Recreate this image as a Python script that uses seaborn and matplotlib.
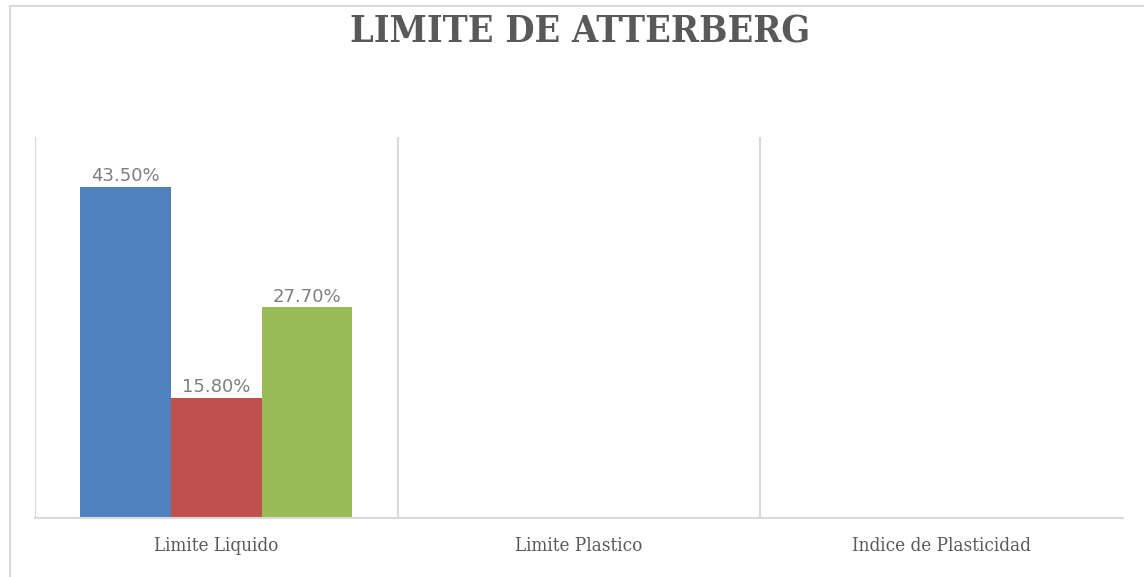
import matplotlib
matplotlib.use("Agg")
import matplotlib.pyplot as plt
from matplotlib.patches import Rectangle
from matplotlib.ticker import FixedLocator
import seaborn as sns
import pandas as pd

# Atterberg limits test results (percent)
categories = ["Limite Liquido", "Limite Plastico", "Indice de Plasticidad"]
series = ["Limite Liquido", "Limite Plastico", "Indice de Plasticidad"]
values = [43.50, 15.80, 27.70]
value_labels = ["43.50%", "15.80%", "27.70%"]
colors = ["#4F81BD", "#C0504D", "#9BBB59"]

df = pd.DataFrame({
    "categoria": [categories[0]] * len(series),
    "serie": series,
    "valor": values,
})

sns.set_theme(style="white")

W, H = 1144, 577
fig = plt.figure(figsize=(W / 100, H / 100), dpi=100)
fig.patch.set_facecolor("white")

# chart frame
fig.patches.append(Rectangle((10 / W, -0.1), 1.2, (H - 6) / H + 0.1,
                             transform=fig.transFigure, fill=False,
                             edgecolor="#D9D9D9", linewidth=1.5))

left, right = 35 / W, 1122.5 / W
bottom, top = (H - 518) / H, (H - 137) / H
ax = fig.add_axes([left, bottom, right - left, top - bottom])

sns.barplot(data=df, x="categoria", y="valor", hue="serie",
            order=categories, hue_order=series, palette=colors,
            saturation=1, width=0.75, gap=0, dodge=True, legend=False,
            ax=ax, edgecolor="none", linewidth=0)

ax.set_xlim(-0.5, 2.5)
ax.set_ylim(0, 50)
ax.set_xlabel("")
ax.set_ylabel("")
ax.set_yticks([])

for container, lab in zip(ax.containers, value_labels):
    ax.bar_label(container, labels=[lab], padding=1, fontsize=13,
                 color="#7F7F7F", family="DejaVu Sans")

# category separators
ax.xaxis.set_minor_locator(FixedLocator([-0.5, 0.5, 1.5]))
ax.grid(True, which="minor", axis="x", color="#D9D9D9", linewidth=1.5)
ax.tick_params(axis="x", which="both", length=0, pad=14)
for lab in ax.get_xticklabels():
    lab.set_family("DejaVu Serif")
    lab.set_fontstretch("condensed")
    lab.set_fontsize(13.5)
    lab.set_color("#595959")

for side in ["top", "right", "left"]:
    ax.spines[side].set_visible(False)
ax.spines["bottom"].set_color("#D9D9D9")
ax.spines["bottom"].set_linewidth(1.5)

fig.text(580 / W, 1 - 32 / H, "LIMITE DE ATTERBERG", ha="center", va="center",
         fontsize=27, fontweight="bold", family="DejaVu Serif",
         fontstretch="condensed", color="#595959")

fig.savefig("out.png", dpi=100, facecolor="white")
